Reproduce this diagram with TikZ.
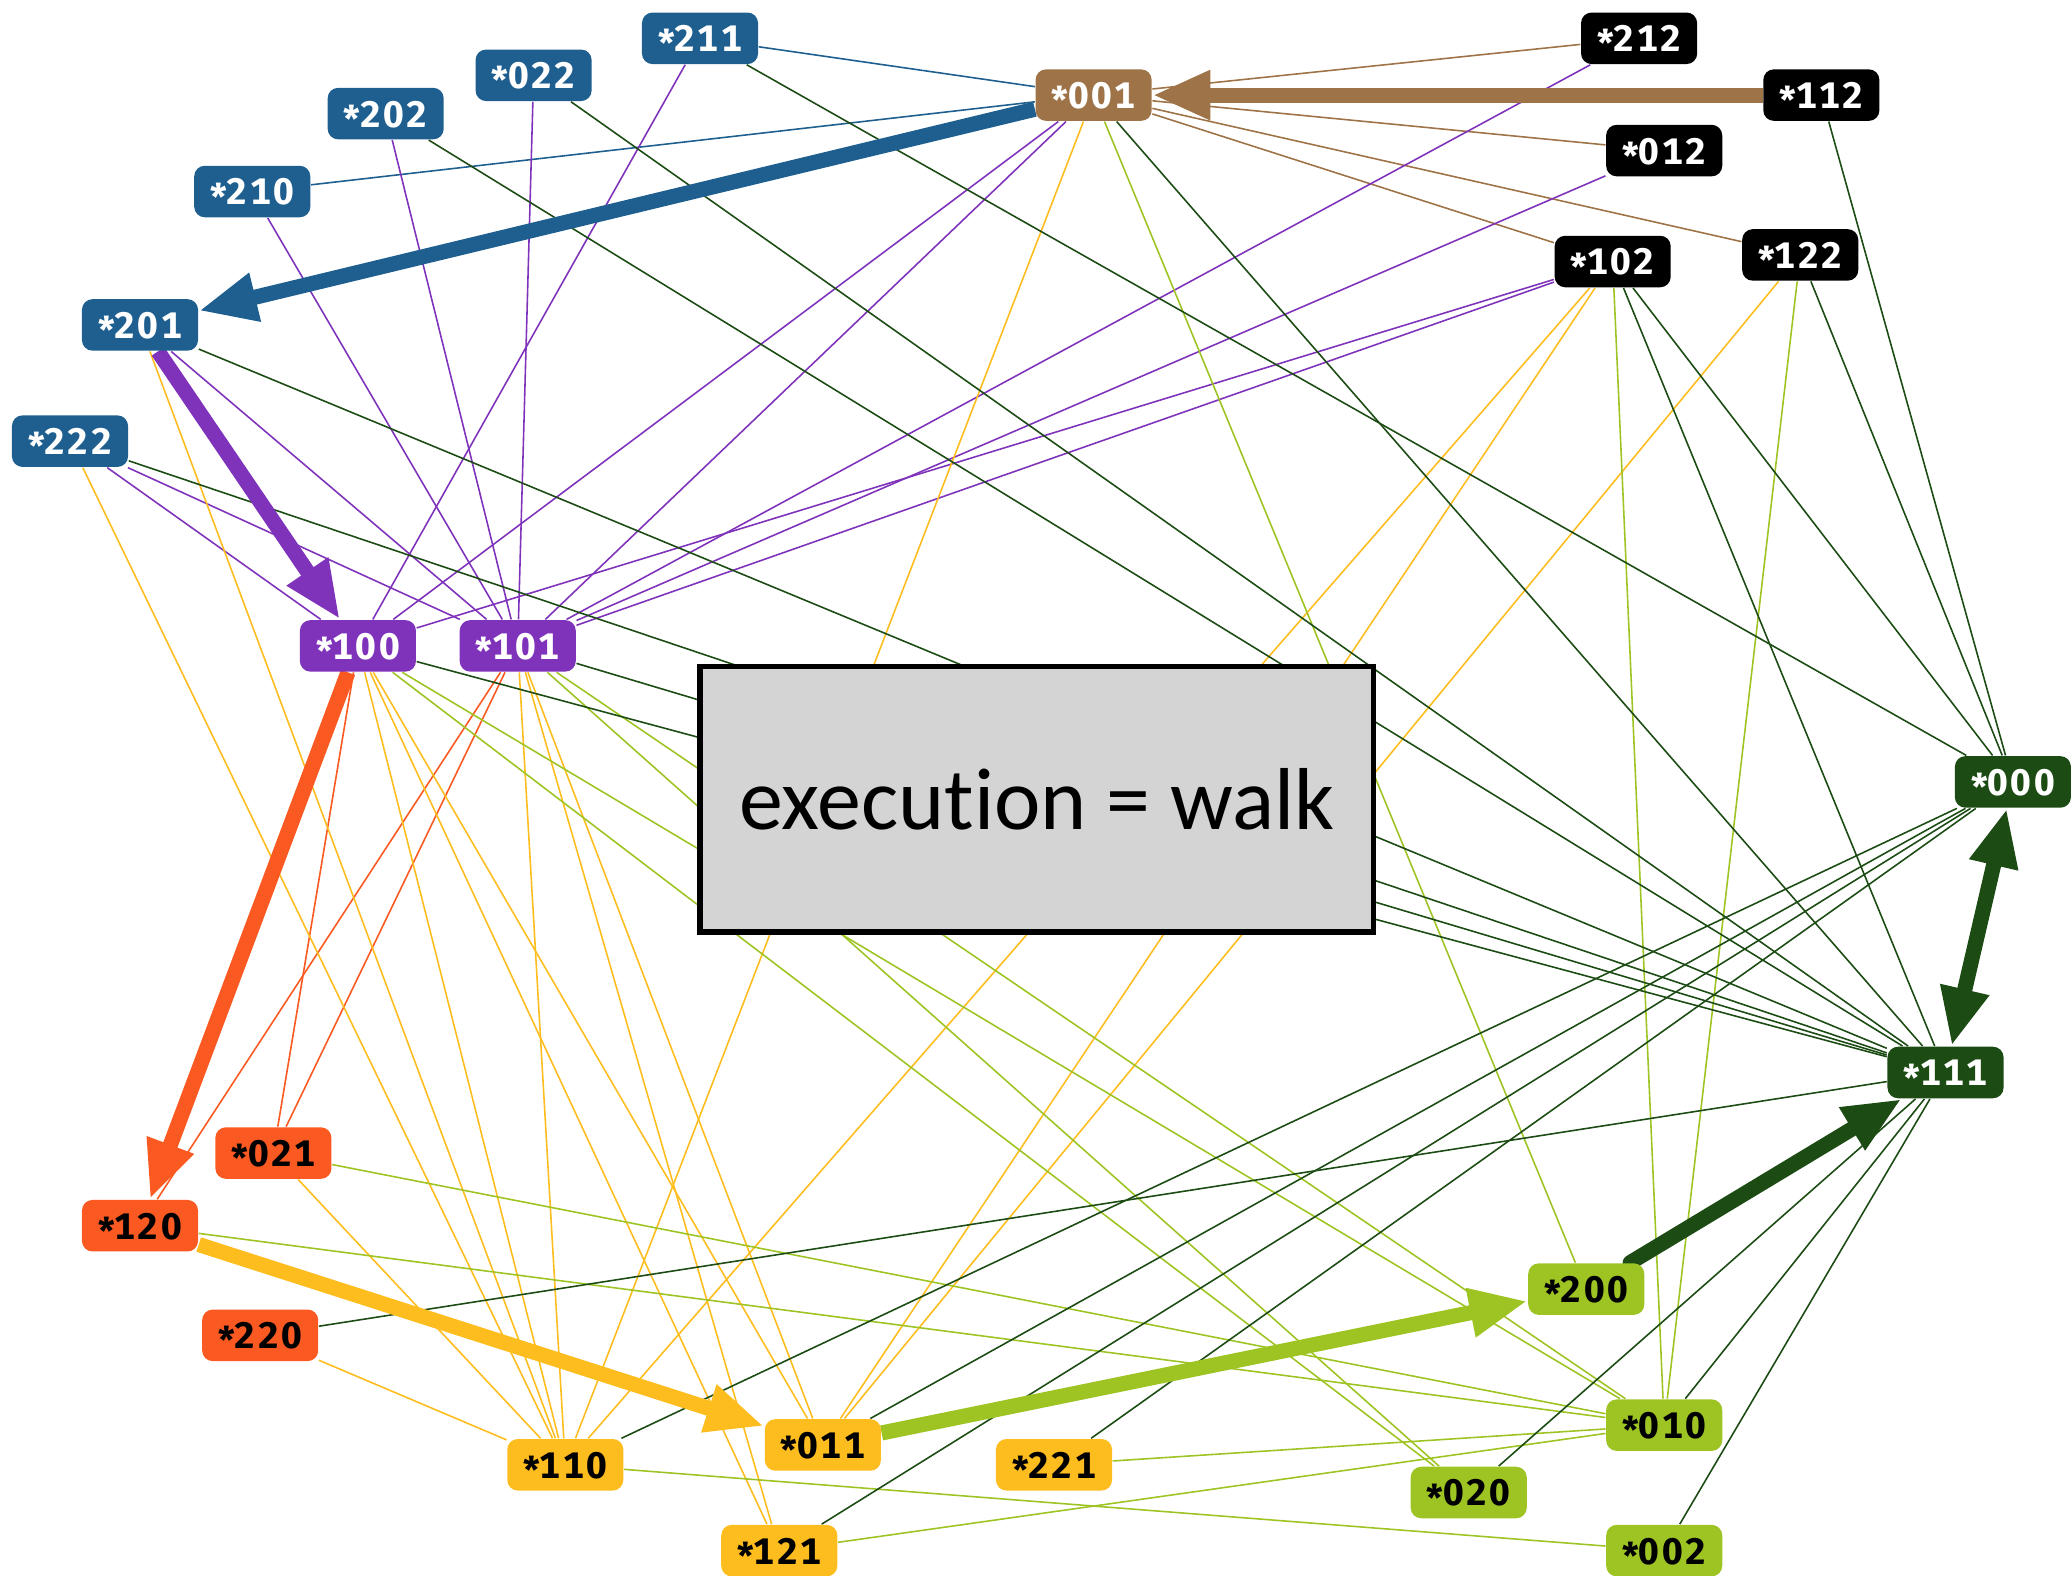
\documentclass[tikz,border=0pt]{standalone}
\usepackage{fontspec}
\setmainfont{Fira Sans}
\newfontfamily\tagfont[LetterSpace=7, Numbers=Monospaced]{Fira Sans}
\newfontfamily\boxfont[Ligatures=NoCommon]{Carlito}
\usetikzlibrary{arrows.meta}

\definecolor{cbrown}{HTML}{9E7347}
\definecolor{cblue}{HTML}{1E5F8F}
\definecolor{cpurple}{HTML}{7F33BB}
\definecolor{corange}{HTML}{FA5A22}
\definecolor{cyellow}{HTML}{FEBD1E}
\definecolor{clime}{HTML}{9EC424}
\definecolor{cgreen}{HTML}{1C4C14}

% state label: lowered star, then the three digits
\newcommand\lab[1]{\raisebox{-0.14em}{*}#1}

\pgfdeclarelayer{back}
\pgfsetlayers{back,main}

\begin{document}
\begin{tikzpicture}[x=0.0132cm, y=-0.0132cm,
            state/.style = {rounded corners=3pt, minimum width=1.16cm, minimum height=0.515cm,
                            inner sep=0pt, text height=1.45ex, text depth=0pt,
                            font=\tagfont\bfseries\fontsize{10.5}{10.5}\selectfont},
            onblack/.style  = {state, fill=black, text=white},
            onbrown/.style  = {state, fill=cbrown, text=white},
            onblue/.style   = {state, fill=cblue, text=white},
            onpurple/.style = {state, fill=cpurple, text=white},
            onorange/.style = {state, fill=corange, text=black},
            onyellow/.style = {state, fill=cyellow, text=black},
            onlime/.style   = {state, fill=clime, text=black},
            ongreen/.style  = {state, fill=cgreen, text=white},
            link/.style = {line width=0.45pt},
            walk/.style = {line width=4.3pt, -{Triangle[length=0.58cm, width=0.46cm]}}
            ]
    \useasboundingbox (0,0) rectangle (1568,1193);

    % states, one colour per level
    \node[onblack] (n212) at (1241,29) {\lab{212}};
    \node[onblack] (n112) at (1379,72) {\lab{112}};
    \node[onblack] (n012) at (1260,114) {\lab{012}};
    \node[onblack] (n102) at (1221,198) {\lab{102}};
    \node[onblack] (n122) at (1363,193) {\lab{122}};
    \node[onbrown] (n001) at (828,72) {\lab{001}};
    \node[onblue] (n211) at (530,29) {\lab{211}};
    \node[onblue] (n022) at (404,57) {\lab{022}};
    \node[onblue] (n202) at (292,86) {\lab{202}};
    \node[onblue] (n210) at (191,145) {\lab{210}};
    \node[onblue] (n201) at (106,246) {\lab{201}};
    \node[onblue] (n222) at (53,334) {\lab{222}};
    \node[onpurple] (n100) at (271,489) {\lab{100}};
    \node[onpurple] (n101) at (392,489) {\lab{101}};
    \node[onorange] (n021) at (207,873) {\lab{021}};
    \node[onorange] (n120) at (106,928) {\lab{120}};
    \node[onorange] (n220) at (197,1011) {\lab{220}};
    \node[onyellow] (n011) at (623,1094) {\lab{011}};
    \node[onyellow] (n110) at (428,1109) {\lab{110}};
    \node[onyellow] (n221) at (798,1109) {\lab{221}};
    \node[onyellow] (n121) at (590,1174) {\lab{121}};
    \node[onlime] (n200) at (1201,976) {\lab{200}};
    \node[onlime] (n010) at (1260,1079) {\lab{010}};
    \node[onlime] (n020) at (1112,1130) {\lab{020}};
    \node[onlime] (n002) at (1260,1174) {\lab{002}};
    \node[ongreen] (n000) at (1524,592) {\lab{000}};
    \node[ongreen] (n111) at (1473,812) {\lab{111}};

    \begin{pgfonlayer}{back}
        % thin edges, coloured by the later level
        \foreach \a/\b in {001/212,001/012,001/102,001/122}
            \draw[link, cbrown] (n\a) -- (n\b);
        \foreach \a/\b in {001/211,001/210}
            \draw[link, cblue] (n\a) -- (n\b);
        \foreach \a/\b in {211/100,022/101,202/101,210/101,201/101,222/100,222/101,
                           001/100,001/101,212/101,012/101,102/100,102/101}
            \draw[link, cpurple] (n\a) -- (n\b);
        \foreach \a/\b in {100/021,101/021,101/120}
            \draw[link, corange] (n\a) -- (n\b);
        \foreach \a/\b in {222/110,201/110,100/110,101/110,001/110,102/110,021/110,220/110,
                           100/011,101/011,102/011,122/011,100/121,101/121}
            \draw[link, cyellow] (n\a) -- (n\b);
        \foreach \a/\b in {001/200,102/010,122/010,100/010,101/010,100/020,101/020,
                           021/010,120/010,221/010,121/010,110/002}
            \draw[link, clime] (n\a) -- (n\b);
        \foreach \a/\b in {211/000,112/000,102/000,122/000,110/000,011/000,121/000,221/000,
                           022/111,202/111,201/111,222/111,100/111,101/111,001/111,
                           102/111,220/111,020/111,010/111,002/111}
            \draw[link, cgreen] (n\a) -- (n\b);

        % the walk
        \draw[walk, cbrown] (n112) -- (n001);
        \draw[walk, cblue] (n001) -- (n201);
        \draw[walk, cpurple] (n201) -- (n100);
        \draw[walk, corange] (n100) -- (n120);
        \draw[walk, cyellow] (n120) -- (n011);
        \draw[walk, clime] (n011) -- (n200);
        \draw[walk, cgreen, line cap=round] (n200) -- (n111);
        \draw[walk, cgreen, {Triangle[length=0.58cm, width=0.46cm]}-{Triangle[length=0.58cm, width=0.46cm]}] (n111) -- (n000);
    \end{pgfonlayer}

    \node[draw, line width=1.6pt, fill={rgb,255:red,212;green,212;blue,212},
          minimum width=6.73cm, minimum height=2.65cm, inner sep=0pt,
          font=\boxfont\fontsize{25}{25}\selectfont] (caption) at (785,605) {execut\kern0pt ion = walk};
\end{tikzpicture}
\end{document}
